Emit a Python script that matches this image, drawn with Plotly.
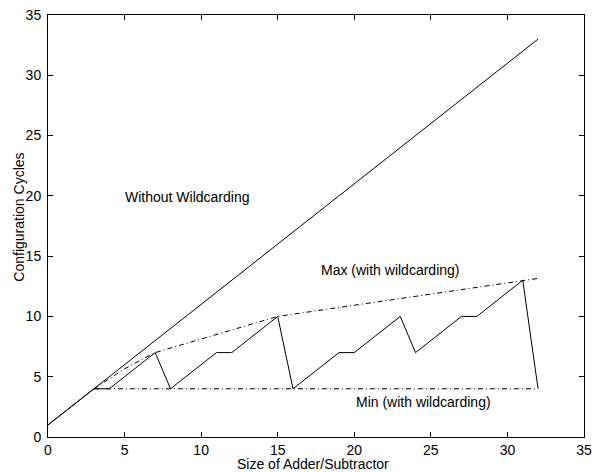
import plotly.graph_objects as go

# Data
sizes = list(range(0, 33))
without_wc = [1, 2, 3, 4, 5, 6, 7, 8, 9, 10, 11, 12, 13, 14, 15, 16, 17, 18, 19, 20,
              21, 22, 23, 24, 25, 26, 27, 28, 29, 30, 31, 32, 33]
actual_wc = [1, 2, 3, 4, 4, 5, 6, 7, 4, 5, 6, 7, 7, 8, 9, 10, 4, 5, 6, 7,
             7, 8, 9, 10, 7, 8, 9, 10, 10, 11, 12, 13, 4]
max_x = [3, 4, 5, 6, 7, 15, 31, 32]
max_wc = [4, 4.85, 5.65, 6.35, 7, 10, 13, 13.15]
min_x = [3, 32]
min_wc = [4, 4]

x_ticks = [0, 5, 10, 15, 20, 25, 30, 35]
y_ticks = [0, 5, 10, 15, 20, 25, 30, 35]

labels = ["Without Wildcarding", "Max (with wildcarding)", "Min (with wildcarding)"]
label_x = [9.1, 22.3, 24.5]
label_y = [19.9, 13.85, 2.93]

x_title = "Size of Adder/Subtractor"
y_title = "Configuration Cycles"

FONT = "Liberation Sans, Arial, sans-serif"
DASHDOT = "5px,3px,1px,3px"

fig = go.Figure()
fig.add_trace(go.Scatter(x=sizes, y=without_wc, mode="lines",
                         line=dict(color="black", width=1)))
fig.add_trace(go.Scatter(x=sizes, y=actual_wc, mode="lines",
                         line=dict(color="black", width=1)))
fig.add_trace(go.Scatter(x=max_x, y=max_wc, mode="lines",
                         line=dict(color="black", width=1, dash=DASHDOT)))
fig.add_trace(go.Scatter(x=min_x, y=min_wc, mode="lines",
                         line=dict(color="black", width=1, dash=DASHDOT)))

for t, xx, yy in zip(labels, label_x, label_y):
    fig.add_annotation(x=xx, y=yy, text=t, showarrow=False,
                       font=dict(family=FONT, size=14, color="black"))

# axis titles as annotations for precise placement
fig.add_annotation(x=0.495, y=0, xref="paper", yref="paper", yshift=-27,
                   xanchor="center", yanchor="middle", text=x_title,
                   showarrow=False, font=dict(family=FONT, size=14, color="black"))
fig.add_annotation(x=0, y=0.521, xref="paper", yref="paper", xshift=-28.5,
                   xanchor="center", yanchor="middle", text=y_title, textangle=-90,
                   showarrow=False, font=dict(family=FONT, size=14, color="black"))

axis_common = dict(showline=True, linecolor="black", linewidth=1, mirror="allticks",
                   ticks="inside", ticklen=5, tickcolor="black", tickwidth=1,
                   showgrid=False, zeroline=False, automargin=False,
                   tickfont=dict(family=FONT, size=14, color="black"))

fig.update_layout(
    width=592, height=472,
    margin=dict(l=48, r=8, t=15, b=35),
    paper_bgcolor="white", plot_bgcolor="white",
    showlegend=False,
    font=dict(family=FONT, size=14, color="black"),
    xaxis=dict(range=[0, 35], tickvals=x_ticks, ticklabelstandoff=0, **axis_common),
    yaxis=dict(range=[0, 35], tickvals=y_ticks, ticklabelstandoff=3, **axis_common),
)

fig.write_html(
    "out.html",
    config={"displayModeBar": False},
    post_script="document.body.style.margin='0';document.body.style.overflow='hidden';",
)
